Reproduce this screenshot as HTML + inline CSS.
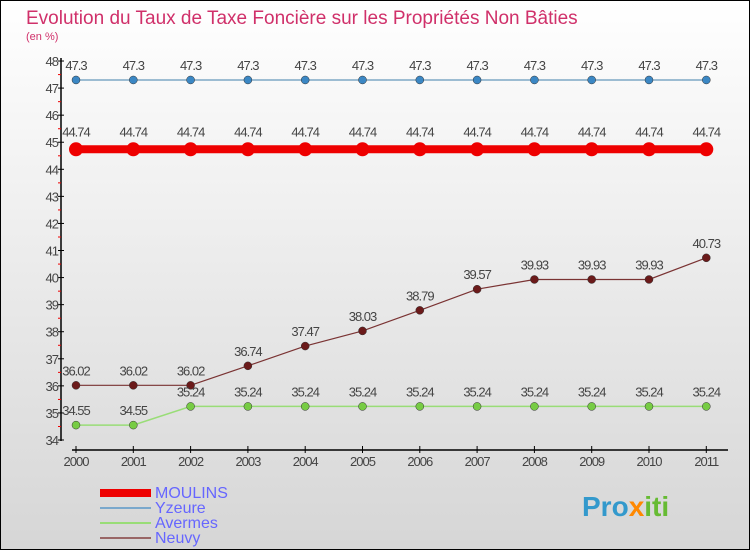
<!DOCTYPE html>
<html><head><meta charset="utf-8"><style>
body{margin:0;width:750px;height:550px;overflow:hidden;font-family:"Liberation Sans",sans-serif}
#c{position:absolute;left:0;top:0;width:748px;height:548px;border:1px solid #000;background:linear-gradient(#ffffff,#d6d6d6)}
</style></head><body>
<div id="c">
<svg id="s" width="750" height="550" style="position:absolute;left:-1px;top:-1px">
<text x="26" y="24" font-size="19" fill="#d0306a">Evolution du Taux de Taxe Foncière sur les Propriétés Non Bâties</text>
<text x="26" y="40" font-size="11" fill="#d0306a">(en %)</text>
<g id="axes"></g><g id="marks"></g>
<g>
<rect x="100" y="489" width="51" height="8" fill="#e00"/>
<text x="155" y="498" font-size="16" fill="#6666ff">MOULINS</text>
<line x1="100" y1="508" x2="151" y2="508" stroke="#7aa8cc" stroke-width="2"/>
<text x="155" y="513" font-size="16" fill="#6666ff">Yzeure</text>
<line x1="100" y1="523" x2="151" y2="523" stroke="#99dd77" stroke-width="2"/>
<text x="155" y="528" font-size="16" fill="#6666ff">Avermes</text>
<line x1="100" y1="538" x2="151" y2="538" stroke="#996666" stroke-width="2"/>
<text x="155" y="543" font-size="16" fill="#6666ff">Neuvy</text>
</g>
<text x="582" y="516" font-size="28" font-weight="bold" fill="#3399cc">Pro<tspan fill="#ff8800">x</tspan><tspan fill="#66bb33">iti</tspan></text>
</svg>
<script>
const years=["2000","2001","2002","2003","2004","2005","2006","2007","2008","2009","2010","2011"];
const yTicks=[34,35,36,37,38,39,40,41,42,43,44,45,46,47,48];
const moulins=[44.74,44.74,44.74,44.74,44.74,44.74,44.74,44.74,44.74,44.74,44.74,44.74];
const yzeure=[47.3,47.3,47.3,47.3,47.3,47.3,47.3,47.3,47.3,47.3,47.3,47.3];
const avermes=[34.55,34.55,35.24,35.24,35.24,35.24,35.24,35.24,35.24,35.24,35.24,35.24];
const neuvy=[36.02,36.02,36.02,36.74,37.47,38.03,38.79,39.57,39.93,39.93,39.93,40.73];
const NS="http://www.w3.org/2000/svg";
const X=i=>76+i*57.3, Y=v=>440-(v-34)*27.07;
function mk(t,a,p){const e=document.createElementNS(NS,t);for(const k in a)e.setAttribute(k,a[k]);p.appendChild(e);return e;}
const ax=document.getElementById('axes'), mg=document.getElementById('marks');
let l=mk('line',{x1:61,y1:58,x2:61,y2:441,stroke:'#000','stroke-width':1.5},ax);


yTicks.forEach(v=>{
 const y=Y(v);
 let t=mk('line',{x1:58,y1:y,x2:64,y2:y,stroke:'#000'},ax);
 
 
 if(v<48){let m=mk('line',{x1:58,y1:y-13.5,x2:61,y2:y-13.5,stroke:'#e00'},ax);
 
 }
 let tx=mk('text',{x:58,y:y+5,'text-anchor':'end','font-size':13,fill:'#444','letter-spacing':'-1'},ax);tx.textContent=v;
 
 
});
l=mk('line',{x1:72,y1:450,x2:728,y2:450,stroke:'#000','stroke-width':1.5},ax);


years.forEach((yr,i)=>{
 let t=mk('line',{x1:X(i),y1:446,x2:X(i),y2:453,stroke:'#000'},ax);
 
 
 let tx=mk('text',{x:X(i),y:466,'text-anchor':'middle','font-size':13,fill:'#444','letter-spacing':'-1'},ax);tx.textContent=yr;
 
 
});
function series(d,name,col,dot,w,r){
 const g=mk('g',{},mg);
 
 
 let p=mk('polyline',{points:d.map((v,i)=>X(i)+','+Y(v)).join(' '),fill:'none',stroke:col,'stroke-width':w},g);
 
 
 d.forEach((v,i)=>{
  let c=mk('circle',{cx:X(i),cy:Y(v),r:r,fill:dot,stroke:dot==='#e00'?'none':'#333','stroke-width':0.5},g);
  
  
  let tx=mk('text',{x:X(i),y:Y(v)-(r+6),'text-anchor':'middle','font-size':13,fill:'#444','letter-spacing':'-1'},g);tx.textContent=v;
  
  
 });
}
series(yzeure,'yzeure','#6699bb','#3b87c4',1.2,4);
series(moulins,'moulins','#e00','#e00',8,7);
series(neuvy,'neuvy','#7a3333','#6b1a1a',1.2,4);
series(avermes,'avermes','#99dd77','#77cc44',1.5,4);
</script>
</div>
</body></html>
